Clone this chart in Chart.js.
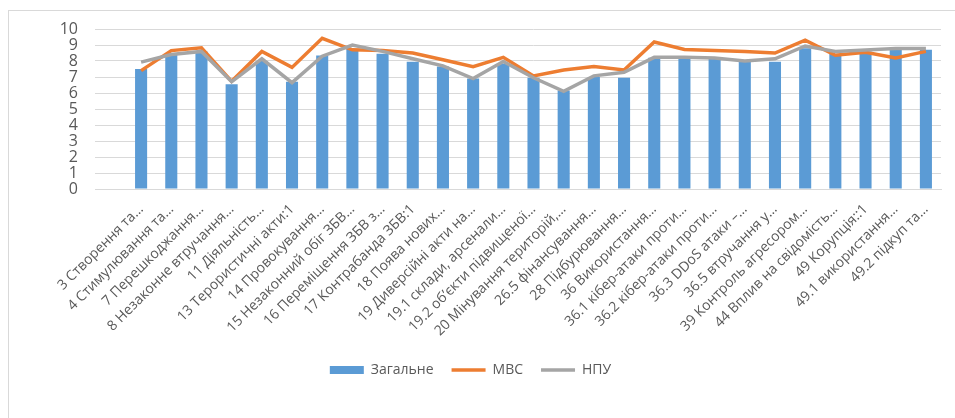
<!DOCTYPE html>
<html>
<head>
<meta charset="utf-8">
<script src="https://cdn.jsdelivr.net/npm/chart.js@4"></script>
<style>
  body { margin: 0; background: #fff; }
  #wrap { position: relative; width: 955px; height: 418px; }
  #frame {
    position: absolute; left: 8px; top: 10px; width: 960px; height: 420px;
    border: 1px solid #d9d9d9; pointer-events: none;
  }
</style>
</head>
<body>
<div id="wrap">
  <canvas id="myChart" width="955" height="418"></canvas>
  <div id="frame"></div>
</div>
<script>
const categories = [
  "3 Створення та…", "4 Стимулювання та…", "7 Перешкоджання…", "8 Незаконне втручання…",
  "11 Діяльність…", "13 Терористичні акти:1", "14 Провокування…", "15 Незаконний обіг ЗБВ…",
  "16 Переміщення ЗБВ з…", "17 Контрабанда ЗБВ:1", "18 Поява нових…", "19 Диверсійні акти на…",
  "19.1 склади, арсенали…", "19.2 об’єкти підвищеної…", "20 Мінування територій,…",
  "26.5 фінансування…", "28 Підбурювання…", "36 Використання…", "36.1 кібер-атаки проти…",
  "36.2 кібер-атаки проти…", "36.3 DDoS атаки –…", "36.5 втручання у…", "39 Контроль агресором…",
  "44 Вплив на свідомість…", "49 Корупція::1", "49.1 використання…", "49.2 підкуп та…"
];
const zagalne = [7.5, 8.4, 8.6, 6.55, 8.0, 6.7, 8.35, 8.75, 8.45, 7.95, 7.65, 6.9, 7.85, 6.95,
  6.15, 7.0, 6.95, 8.2, 8.15, 8.15, 8.0, 7.95, 8.8, 8.45, 8.6, 8.7, 8.7];
const mvs = [7.4, 8.65, 8.83, 6.73, 8.6, 7.6, 9.42, 8.7, 8.65, 8.5, 8.08, 7.65, 8.23, 7.07,
  7.44, 7.65, 7.44, 9.19, 8.72, 8.65, 8.6, 8.5, 9.3, 8.36, 8.55, 8.19, 8.6];
const npu = [7.93, 8.4, 8.6, 6.7, 8.14, 6.65, 8.3, 9.0, 8.6, 8.14, 7.7, 6.9, 7.97, 6.95,
  6.1, 7.07, 7.29, 8.23, 8.23, 8.19, 8.0, 8.14, 8.94, 8.6, 8.68, 8.78, 8.78];
const yTicks = [0, 1, 2, 3, 4, 5, 6, 7, 8, 9, 10];

const textColor = "#595959";
const gridColor = "#d9d9d9";
const ctx = document.getElementById("myChart");

new Chart(ctx, {
  data: {
    labels: categories,
    datasets: [
      {
        type: "bar",
        label: "Загальне",
        data: zagalne,
        backgroundColor: "#5b9bd5",
        borderWidth: 0,
        barPercentage: 0.4,
        categoryPercentage: 1,
        order: 3,
        pointStyle: "rect",
      },
      {
        type: "line",
        label: "МВС",
        data: mvs,
        borderColor: "#ed7d31",
        backgroundColor: "#ed7d31",
        borderWidth: 3.5,
        pointRadius: 0,
        tension: 0,
        order: 2,
        pointStyle: "line",
      },
      {
        type: "line",
        label: "НПУ",
        data: npu,
        borderColor: "#a5a5a5",
        backgroundColor: "#a5a5a5",
        borderWidth: 3.5,
        pointRadius: 0,
        tension: 0,
        order: 1,
        pointStyle: "line",
      },
    ],
  },
  options: {
    responsive: false,
    animation: false,
    layout: { padding: { top: 29, right: 14, left: 0, bottom: 31 } },
    plugins: {
      legend: {
        position: "bottom",
        labels: {
          usePointStyle: true,
          pointStyleWidth: 34,
          boxHeight: 8,
          padding: 18,
          color: textColor,
          font: { family: "Open Sans", size: 14 },
          sort: (a, b) => a.datasetIndex - b.datasetIndex,
        },
      },
      tooltip: { enabled: false },
    },
    scales: {
      y: {
        min: 0,
        max: 10,
        afterBuildTicks: (scale) => {
          scale.ticks = yTicks.map((v) => ({ value: v }));
        },
        afterFit: (scale) => { scale.width = 126; },
        border: { display: false },
        grid: { color: gridColor, tickColor: gridColor, drawTicks: true, tickLength: 31 },
        ticks: {
          autoSkip: false,
          padding: 17,
          color: textColor,
          font: { family: "Open Sans", size: 16 },
        },
      },
      x: {
        afterFit: (scale) => { scale.height = 156; },
        border: { color: gridColor },
        grid: { display: false, drawTicks: false },
        ticks: {
          autoSkip: false,
          maxRotation: 45,
          minRotation: 45,
          padding: 12,
          color: textColor,
          font: { family: "Open Sans", size: 14 },
        },
      },
    },
  },
});
</script>
</body>
</html>
